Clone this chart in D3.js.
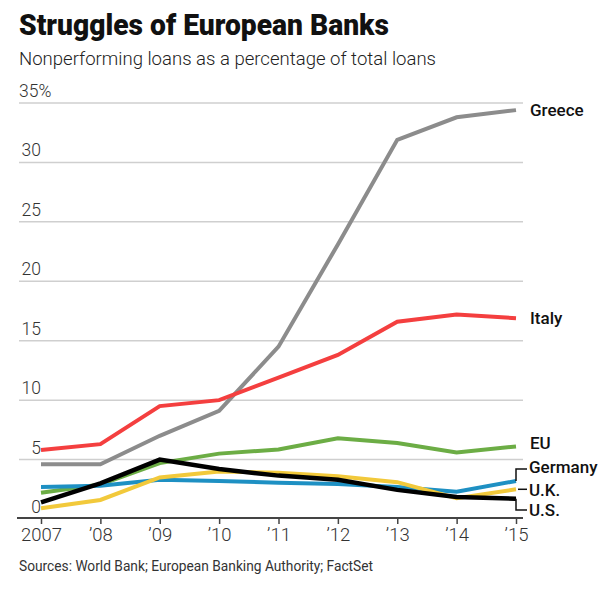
<!DOCTYPE html>
<html>
<head>
<meta charset="utf-8">
<script src="https://cdn.jsdelivr.net/npm/d3@7"></script>
<style>
  html, body { margin: 0; padding: 0; background: #fff; }
  svg { display: block; }
  text { font-family: Roboto, "Noto Sans", sans-serif; }
</style>
</head>
<body>
<svg id="chart" width="603" height="591"></svg>
<script>
const years = [2007, 2008, 2009, 2010, 2011, 2012, 2013, 2014, 2015];
const greece  = [4.6, 4.6, 7.0, 9.1, 14.5, 23.1, 31.9, 33.8, 34.4];
const italy   = [5.8, 6.3, 9.5, 10.0, 11.9, 13.8, 16.6, 17.2, 16.9];
const eu      = [2.2, 2.9, 4.7, 5.5, 5.85, 6.8, 6.4, 5.6, 6.1];
const germany = [2.7, 2.8, 3.3, 3.2, 3.05, 2.95, 2.7, 2.3, 3.2];
const uk      = [0.9, 1.6, 3.5, 4.0, 3.9, 3.6, 3.1, 1.75, 2.5];
const us      = [1.4, 3.0, 5.0, 4.2, 3.65, 3.3, 2.45, 1.85, 1.7];
const yTicks  = [0, 5, 10, 15, 20, 25, 30, 35];
const seriesNames = ["Greece", "Italy", "EU", "Germany", "U.K.", "U.S."];
const seriesColors = ["#8c8c8c", "#f43f3f", "#6cad45", "#1e90c3", "#f2c93b", "#000000"];

const series = [greece, italy, eu, germany, uk, us].map((vals, i) => ({
  name: seriesNames[i], color: seriesColors[i],
  values: vals.map((v, j) => ({ year: years[j], value: v }))
}));

const svg = d3.select("#chart");
const x = d3.scaleLinear().domain([2007, 2015]).range([41, 516]);
const y = d3.scaleLinear().domain([0, 35]).range([519, 103]);

// Title, subtitle
svg.append("text").attr("x", 19).attr("y", 35)
  .attr("font-size", 30).attr("font-weight", 900).attr("fill", "#111")
  .attr("textLength", 370).attr("lengthAdjust", "spacingAndGlyphs")
  .text("Struggles of European Banks");
svg.append("text").attr("x", 19).attr("y", 65)
  .attr("font-size", 18).attr("font-weight", 300).attr("fill", "#222")
  .attr("textLength", 417).attr("lengthAdjust", "spacingAndGlyphs")
  .text("Nonperforming loans as a percentage of total loans");

// Gridlines
svg.append("g").selectAll("line").data(yTicks.filter(d => d > 0)).join("line")
  .attr("x1", 19).attr("x2", 523)
  .attr("y1", d => y(d)).attr("y2", d => y(d))
  .attr("stroke", "#cfcfcf").attr("stroke-width", 1.5);

// Y labels
svg.append("g").selectAll("text").data(yTicks).join("text")
  .attr("x", d => d === 35 ? 19 : 41)
  .attr("y", d => y(d) - 6)
  .attr("text-anchor", d => d === 35 ? "start" : "end")
  .attr("font-size", 17.5).attr("font-weight", 300).attr("fill", "#333")
  .text(d => d === 35 ? "35%" : d);

// X axis
const xAxis = d3.axisBottom(x).tickValues(years)
  .tickFormat(d => d === 2007 ? "2007" : "\u2019" + String(d).slice(2))
  .tickSize(6).tickSizeOuter(0);
const gx = svg.append("g").attr("transform", "translate(0,518)").call(xAxis);
gx.select(".domain").remove();
gx.selectAll(".tick line").attr("stroke", "#444").attr("stroke-width", 1.5);
gx.selectAll(".tick text").attr("font-size", 18.5).attr("font-weight", 300)
  .attr("fill", "#333").attr("dy", "0.71em").attr("y", 10)
  .style("font-family", "Roboto, sans-serif");
svg.append("line").attr("x1", 17).attr("x2", 523).attr("y1", 518).attr("y2", 518)
  .attr("stroke", "#444").attr("stroke-width", 2);

// Lines
const line = d3.line().x(d => x(d.year)).y(d => y(d.value));
svg.append("g").selectAll("path").data(series).join("path")
  .attr("d", d => line(d.values))
  .attr("fill", "none")
  .attr("stroke", d => d.color)
  .attr("stroke-width", d => d.name === "U.S." ? 4.5 : 4)
  .attr("stroke-linejoin", "miter");

// Leaders
const last = s => s.values[s.values.length - 1].value;
const xe = x(2015);
const leader = svg.append("g").attr("fill", "none").attr("stroke", "#111").attr("stroke-width", 1.5);
leader.append("path").attr("d", `M${xe},${y(last(series[3]))} V469 H527`);
leader.append("path").attr("d", `M${xe + 2},${y(last(series[4]))} H527`);
leader.append("path").attr("d", `M${xe},${y(last(series[5]))} V510 H527`);

// Series labels
const labelPos = [
  { name: "Greece", x: 530, y: y(last(series[0])) },
  { name: "Italy", x: 530, y: y(last(series[1])) },
  { name: "EU", x: 530, y: 443 },
  { name: "Germany", x: 529, y: 467 },
  { name: "U.K.", x: 529, y: 490 },
  { name: "U.S.", x: 529, y: 510 }
];
svg.append("g").selectAll("text").data(labelPos).join("text")
  .attr("x", d => d.x).attr("y", d => d.y).attr("dy", "0.35em")
  .attr("font-size", 17).attr("font-weight", 500).attr("fill", "#111")
  .text(d => d.name);

// Source
svg.append("text").attr("x", 19).attr("y", 571)
  .attr("font-size", 14).attr("font-weight", 400).attr("fill", "#333")
  .attr("textLength", 354).attr("lengthAdjust", "spacingAndGlyphs")
  .text("Sources: World Bank; European Banking Authority; FactSet");
</script>
</body>
</html>
